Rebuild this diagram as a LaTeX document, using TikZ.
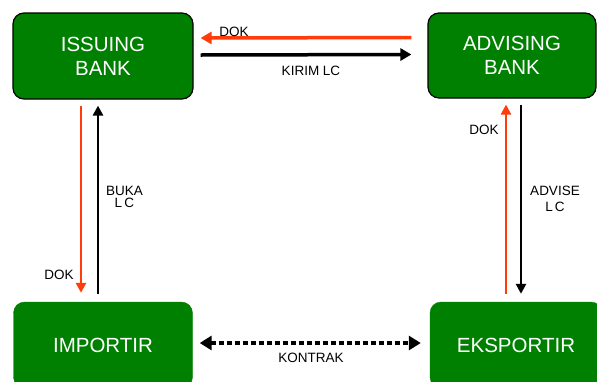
\documentclass[tikz,border=0pt]{standalone}
\usepackage{fontspec}
\setmainfont{Liberation Sans}
\usetikzlibrary{arrows.meta}

\definecolor{bankgreen}{RGB}{0,128,0}
\definecolor{dokred}{RGB}{255,60,10}

\begin{document}
\begin{tikzpicture}[x=1pt,y=-1pt,
  party/.style={fill=bankgreen, rounded corners=11pt, align=center, text=white,
    font=\fontsize{20.5}{24}\selectfont, inner sep=0pt},
  bankbox/.style={party, draw=black, line width=1.2pt},
  firmbox/.style={party, draw=bankgreen},
  lbl/.style={font=\fontsize{13.5}{16}\selectfont, align=center, inner sep=0pt},
  hflow/.style={line width=3.5pt, arrows={-Triangle[length=11pt,width=12pt]}},
  vflow/.style={line width=2.6pt, arrows={-Triangle[length=10pt,width=10pt]}}]
  \useasboundingbox (0,0) rectangle (597,381);
  \clip (0,0) rectangle (597,381);

  \node[bankbox, minimum width=180pt, minimum height=86pt] (issuing) at (103,56) {ISSUING\\BANK};
  \node[bankbox, minimum width=168pt, minimum height=85pt] (advising) at (512,55.5) {ADVISING\\BANK};
  \node[firmbox, minimum width=179pt, minimum height=86pt] (importir) at (103,345) {IMPORTIR};
  \node[firmbox, minimum width=172pt, minimum height=86pt] (eksportir) at (516,345) {EKSPORTIR};

  \draw[hflow, draw=dokred, fill=dokred] ([xshift=-16pt,yshift=18pt]advising.west) -- ([xshift=7pt,yshift=18pt]issuing.east);
  \draw[hflow] ([xshift=7pt,yshift=1pt]issuing.east) -- ([xshift=-16pt,yshift=1pt]advising.west);

  \draw[vflow, draw=dokred, fill=dokred] ([xshift=-22pt,yshift=-6pt]issuing.south) -- ([xshift=-22pt,yshift=9pt]importir.north);
  \draw[vflow] ([xshift=-5pt,yshift=8pt]importir.north) -- ([xshift=-5pt,yshift=-6pt]issuing.south);

  \draw[vflow, draw=dokred, fill=dokred] ([xshift=-10pt,yshift=8pt]eksportir.north) -- ([xshift=-6pt,yshift=-6pt]advising.south);
  \draw[vflow] ([xshift=9pt,yshift=-6pt]advising.south) -- ([xshift=5pt,yshift=8pt]eksportir.north);

  \draw[line width=4pt, dash pattern=on 5pt off 3pt,
    arrows={Triangle[length=12pt,width=14pt]-Triangle[length=12pt,width=14pt]}]
    ([xshift=7pt,yshift=2pt]importir.east) -- ([xshift=-9pt,yshift=2pt]eksportir.west);

  \node[lbl] (dokTop) at (234,31.5) {DOK};
  \node[lbl] (kirimLC) at (311,70.5) {KIRIM LC};
  \node[lbl, font=\fontsize{13.5}{12.5}\selectfont] (bukaLC) at (124.5,197) {BUKA\\L\,C};
  \node[lbl] (dokLeft) at (59,275) {DOK};
  \node[lbl] (dokRight) at (484,130) {DOK};
  \node[lbl] (adviseLC) at (555,198.5) {ADVISE\\L\,C};
  \node[lbl] (kontrak) at (311,358) {KONTRAK};
\end{tikzpicture}
\end{document}
